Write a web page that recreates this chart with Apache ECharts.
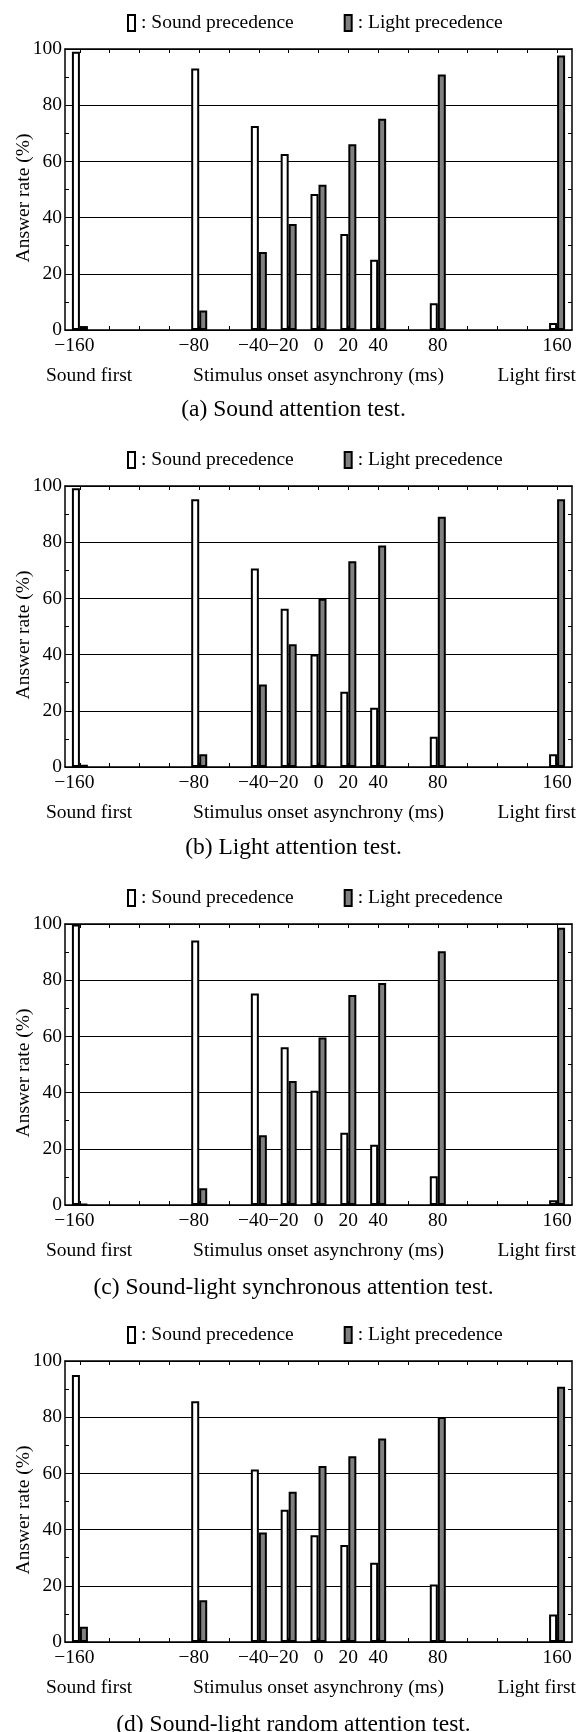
<!DOCTYPE html>
<html>
<head>
<meta charset="utf-8">
<script src="https://cdn.jsdelivr.net/npm/echarts@6/dist/echarts.min.js"></script>
<style>
html,body{margin:0;padding:0;background:#fff;}
#chart{width:587px;height:1732px;}
</style>
</head>
<body>
<div id="chart"></div>
<script>
// ---- data ----
const soaValues = [-160, -80, -40, -20, 0, 20, 40, 80, 160];
const xTickLabelValues = [-160, -80, -40, -20, 0, 20, 40, 80, 160];
const xMinorTickValues = [-160,-140,-120,-100,-80,-60,-40,-20,0,20,40,60,80,100,120,140,160];
const seriesNames = ['Sound precedence', 'Light precedence'];
const soundA = [99.0, 93.1, 72.6, 62.6, 48.4, 34.2, 25.0, 9.5, 2.5];
const lightA = [1.4, 6.9, 27.8, 37.7, 51.7, 66.1, 75.2, 90.9, 97.7];
const soundB = [99.2, 95.3, 70.6, 56.3, 40.0, 26.8, 21.1, 10.8, 4.5];
const lightB = [0.8, 4.5, 29.4, 43.7, 59.9, 73.2, 78.8, 89.1, 95.3];
const soundC = [99.8, 94.1, 75.3, 56.1, 40.7, 25.7, 21.4, 10.2, 1.7];
const lightC = [0.4, 6.0, 24.8, 44.1, 59.6, 74.7, 79.0, 90.3, 98.7];
const soundD = [95.0, 85.7, 61.4, 47.1, 38.0, 34.5, 28.2, 20.5, 9.8];
const lightD = [5.4, 14.9, 39.0, 53.5, 62.6, 66.1, 72.4, 80.1, 90.8];
const captions = [
  '(a) Sound attention test.',
  '(b) Light attention test.',
  '(c) Sound-light synchronous attention test.',
  '(d) Sound-light random attention test.'
];
const yAxisTitle = 'Answer rate (%)';
const xAxisTitle = 'Stimulus onset asynchrony (ms)';
const leftNote = 'Sound first';
const rightNote = 'Light first';

// ---- layout ----
const FONT = '"Liberation Serif", "Times New Roman", serif';
const FS = 19.5;
const panelTops = [49, 486, 924, 1361];
const captionShift = [0, 1, 3, 3];
const plotH = 281;
const gridLeft = 65, gridRight = 15;
const soundSets = [soundA, soundB, soundC, soundD];
const lightSets = [lightA, lightB, lightC, lightD];

const grids = [], xAxes = [], yAxes = [], series = [], legends = [], graphics = [];

function xLabel(v) {
  if (v < 0) return '{m|\u2212}' + Math.abs(v) + '{h|\u2212}';
  return String(v);
}

panelTops.forEach((top, k) => {
  const dy = top - 49;
  grids.push({left: gridLeft, right: gridRight, top: top, height: plotH, show: false});
  const base = {
    type: 'value', gridIndex: k, min: -170, max: 170,
    splitLine: {show: false}
  };
  // bottom x axis
  xAxes.push(Object.assign({}, base, {
    position: 'bottom',
    axisLine: {show: true, onZero: false, lineStyle: {color: '#000', width: 1.5}},
    axisTick: {show: true, inside: true, length: 4, customValues: xMinorTickValues, lineStyle: {color: '#000', width: 1}},
    axisLabel: {
      show: true, customValues: xTickLabelValues, margin: 6,
      formatter: xLabel, color: '#000', fontFamily: FONT, fontSize: FS,
      rich: {
        m: {fontFamily: FONT, fontSize: FS, color: '#000'},
        h: {fontFamily: FONT, fontSize: FS, color: 'rgba(0,0,0,0)'}
      }
    }
  }));
  // top x axis (frame)
  xAxes.push(Object.assign({}, base, {
    position: 'top',
    axisLine: {show: true, onZero: false, lineStyle: {color: '#000', width: 1.5}},
    axisTick: {show: true, inside: true, length: 4, customValues: xMinorTickValues, lineStyle: {color: '#000', width: 1}},
    axisLabel: {show: false}
  }));
  // left y axis
  yAxes.push({
    type: 'value', gridIndex: k, min: 0, max: 100, interval: 20, position: 'left',
    axisLine: {show: true, onZero: false, lineStyle: {color: '#000', width: 1.5}},
    axisTick: {show: true, inside: true, length: 4, lineStyle: {color: '#000', width: 1}},
    minorTick: {show: true, splitNumber: 2, length: 4, lineStyle: {color: '#000', width: 1}},
    splitLine: {show: true, lineStyle: {color: '#000', width: 1.2}},
    axisLabel: {show: true, margin: 3, color: '#000', fontFamily: FONT, fontSize: FS}
  });
  // right y axis (frame)
  yAxes.push({
    type: 'value', gridIndex: k, min: 0, max: 100, interval: 10, position: 'right',
    axisLine: {show: true, onZero: false, lineStyle: {color: '#000', width: 1.5}},
    axisTick: {show: true, inside: true, length: 4, lineStyle: {color: '#000', width: 1}},
    splitLine: {show: false},
    axisLabel: {show: false}
  });
  const sData = soaValues.map((x, i) => [x, soundSets[k][i]]);
  const lData = soaValues.map((x, i) => [x, lightSets[k][i]]);
  series.push({
    name: seriesNames[0], type: 'bar', xAxisIndex: 2 * k, yAxisIndex: 2 * k,
    data: sData, barWidth: 8, barGap: '0%', silent: true,
    itemStyle: {color: '#ffffff', borderColor: '#000', borderWidth: 2}
  });
  series.push({
    name: seriesNames[1], type: 'bar', xAxisIndex: 2 * k, yAxisIndex: 2 * k,
    data: lData, barWidth: 8, barGap: '0%', silent: true,
    itemStyle: {color: '#808080', borderColor: '#000', borderWidth: 2}
  });
  legends.push({
    top: 8 + dy, left: 122, itemGap: 50, itemWidth: 7, itemHeight: 16,
    icon: 'rect', selectedMode: false,
    data: seriesNames,
    formatter: name => ': ' + name,
    textStyle: {color: '#000', fontFamily: FONT, fontSize: FS, padding: [0, 0, 0, 1]}
  });
  const txt = (text, x, y, align, size) => ({
    type: 'text', x: x, y: y, silent: true,
    style: {text: text, fill: '#000', font: size + 'px ' + FONT, textAlign: align, textVerticalAlign: 'middle'}
  });
  graphics.push(txt(leftNote, 46, 376 + dy, 'left', FS));
  graphics.push(txt(xAxisTitle, 318.5, 376 + dy, 'center', FS));
  graphics.push(txt(rightNote, 576, 376 + dy, 'right', FS));
  graphics.push(txt(captions[k], 293.5, 410 + dy + captionShift[k], 'center', 23.5));
  graphics.push({
    type: 'text', x: 24, y: 198 + dy, rotation: Math.PI / 2, silent: true,
    style: {text: yAxisTitle, fill: '#000', font: FS + 'px ' + FONT, textAlign: 'center', textVerticalAlign: 'middle'}
  });
});

const chart = echarts.init(document.getElementById('chart'), null, {renderer: 'canvas'});
chart.setOption({
  animation: false,
  backgroundColor: '#ffffff',
  grid: grids,
  xAxis: xAxes,
  yAxis: yAxes,
  legend: legends,
  series: series,
  graphic: graphics
});
</script>
</body>
</html>
